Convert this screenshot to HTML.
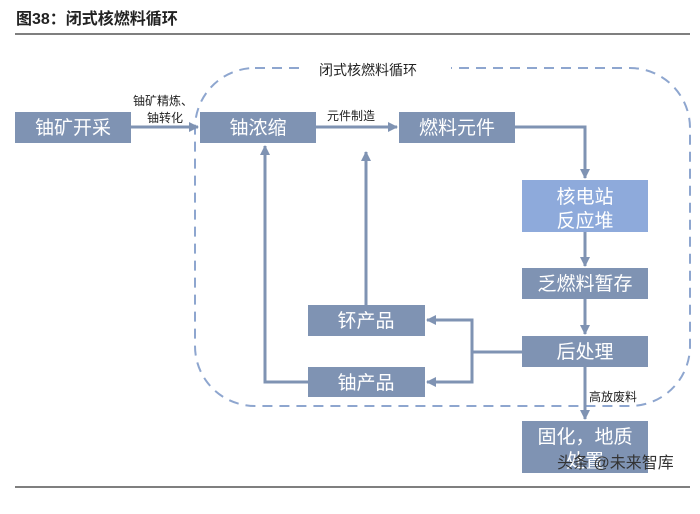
<!DOCTYPE html>
<html><head><meta charset="utf-8"><style>
body{margin:0;width:700px;height:514px;background:#fff;overflow:hidden;font-family:"Liberation Sans","Noto Sans CJK SC",sans-serif;}
</style></head><body>
<svg width="700" height="514" xmlns="http://www.w3.org/2000/svg" style="position:absolute;left:0;top:0;font-family:'Liberation Sans','Noto Sans CJK SC',sans-serif">
<defs><marker id="a" markerWidth="10" markerHeight="10" refX="9" refY="5" orient="auto" markerUnits="userSpaceOnUse"><path d="M0,0 L10,5 L0,10 z" fill="#7f93b3"/></marker></defs>
<text x="16" y="24" font-size="16" font-weight="bold" fill="#222">图38：闭式核燃料循环</text>
<line x1="15" y1="34" x2="690" y2="34" stroke="#555" stroke-width="1.5"/>
<rect x="195" y="68" width="495" height="338" rx="60" fill="none" stroke="#8ea6cf" stroke-width="2" stroke-dasharray="10,7"/>
<rect x="303" y="56" width="148" height="26" fill="#fff"/>
<text x="319" y="75" font-size="14" fill="#222">闭式核燃料循环</text>
<g fill="#7f93b3">
<rect x="15" y="112" width="116" height="31"/>
<rect x="200" y="112" width="116" height="31"/>
<rect x="399" y="112" width="116" height="31"/>
<rect x="522" y="268" width="126" height="31"/>
<rect x="522" y="336" width="126" height="31"/>
<rect x="522" y="421" width="126" height="52"/>
<rect x="308" y="305" width="117" height="31"/>
<rect x="308" y="367" width="117" height="30"/>
</g>
<rect x="522" y="180" width="126" height="52" fill="#8eaadb"/>
<g fill="#fff" font-size="19" text-anchor="middle">
<text x="73" y="134">铀矿开采</text>
<text x="258" y="134">铀浓缩</text>
<text x="457" y="134">燃料元件</text>
<text x="585" y="203">核电站</text>
<text x="585" y="227">反应堆</text>
<text x="585" y="290">乏燃料暂存</text>
<text x="585" y="358">后处理</text>
<text x="585" y="443">固化，地质</text>
<text x="585" y="467">处置</text>
<text x="366" y="327">钚产品</text>
<text x="366" y="389">铀产品</text>
</g>
<g stroke="#7f93b3" stroke-width="3" fill="none" marker-end="url(#a)">
<line x1="131" y1="127" x2="198" y2="127"/>
<line x1="316" y1="127" x2="397" y2="127"/>
<polyline points="515,127 585,127 585,178"/>
<line x1="585" y1="232" x2="585" y2="266"/>
<line x1="585" y1="299" x2="585" y2="334"/>
<line x1="585" y1="367" x2="585" y2="419"/>
<polyline points="472,320 427,320"/>
<polyline points="472,382 427,382"/>
<line x1="366" y1="305" x2="366" y2="152"/>
<polyline points="308,382 265,382 265,146"/>
</g>
<polyline points="522,352 472,352" stroke="#7f93b3" stroke-width="3" fill="none"/>
<line x1="472" y1="318.5" x2="472" y2="383.5" stroke="#7f93b3" stroke-width="3"/>
<g font-size="12" fill="#222">
<text x="133" y="105">铀矿精炼、</text>
<text x="147" y="122">铀转化</text>
<text x="327" y="120">元件制造</text>
<text x="589" y="401">高放废料</text>
</g>
<text x="557" y="468" font-size="16" fill="#333">头条 @未来智库</text>
<line x1="15" y1="487" x2="690" y2="487" stroke="#555" stroke-width="1.5"/>
</svg>
</body></html>
